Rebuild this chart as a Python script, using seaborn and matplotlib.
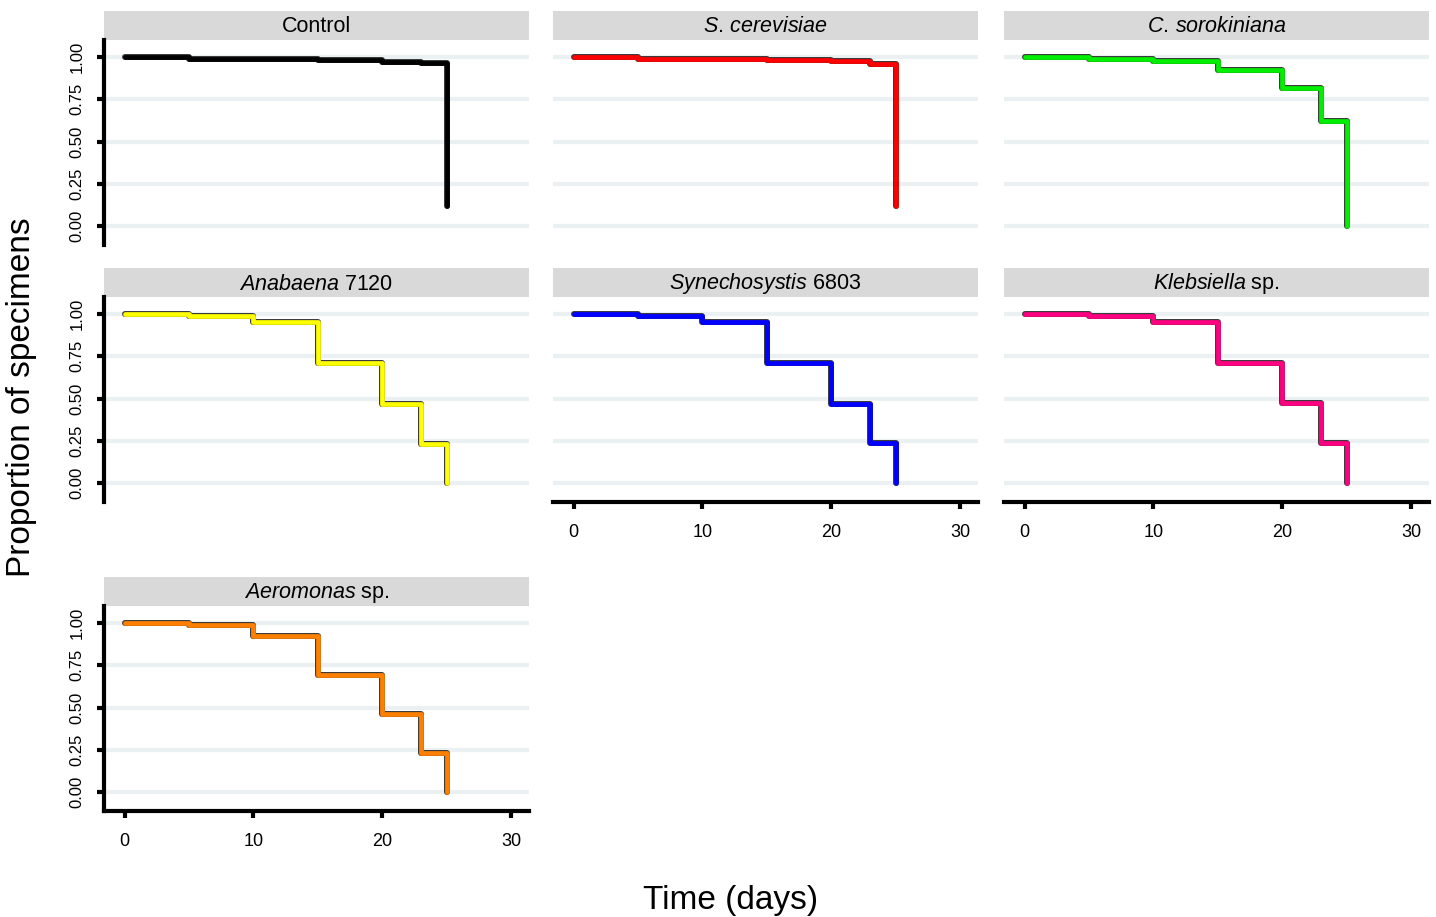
import pandas as pd
import matplotlib.pyplot as plt
import matplotlib.patheffects as pe
from matplotlib.patches import Rectangle
import seaborn as sns

# survival steps (event days)
times = [0, 5, 10, 15, 20, 23, 25]
control = [1.0, 0.99, 0.99, 0.98, 0.972, 0.965, 0.12]
cerevisiae = [1.0, 0.99, 0.99, 0.984, 0.976, 0.96, 0.12]
sorokiniana = [1.0, 0.99, 0.975, 0.92, 0.815, 0.62, 0.0]
anabaena = [1.0, 0.99, 0.95, 0.71, 0.47, 0.235, 0.0]
synechocystis = [1.0, 0.99, 0.95, 0.71, 0.47, 0.238, 0.0]
klebsiella = [1.0, 0.99, 0.95, 0.71, 0.472, 0.238, 0.0]
aeromonas = [1.0, 0.99, 0.925, 0.69, 0.46, 0.23, 0.0]

groups = ['Control', 'S. cerevisiae', 'C. sorokiniana', 'Anabaena 7120',
          'Synechosystis 6803', 'Klebsiella sp.', 'Aeromonas sp.']
strip_labels = ['Control', r'$\mathit{S.\,cerevisiae}$', r'$\mathit{C.\,sorokiniana}$',
                r'$\mathit{Anabaena}$ 7120', r'$\mathit{Synechosystis}$ 6803',
                r'$\mathit{Klebsiella}$ sp.', r'$\mathit{Aeromonas}$ sp.']
colors = ['#000000', '#ff0000', '#00ee00', '#ffff00', '#0000ff', '#ff0080', '#ff8000']
y_ticks = [0.0, 0.25, 0.5, 0.75, 1.0]
x_ticks = [0, 10, 20, 30]

curves = [control, cerevisiae, sorokiniana, anabaena, synechocystis, klebsiella, aeromonas]
df = pd.concat([pd.DataFrame({'group': grp, 'time': times, 'surv': vals})
                for grp, vals in zip(groups, curves)], ignore_index=True)

sns.set_style('white')
plt.rcParams['font.family'] = ['Liberation Sans', 'DejaVu Sans']
plt.rcParams['mathtext.fontset'] = 'custom'
plt.rcParams['mathtext.rm'] = 'Liberation Sans'
plt.rcParams['mathtext.it'] = 'Liberation Sans:italic'
plt.rcParams['text.color'] = 'black'
plt.rcParams['xtick.color'] = 'black'
plt.rcParams['ytick.color'] = 'black'

W, H = 1436, 917
fig = plt.figure(figsize=(W / 100, H / 100), dpi=100)

col_left = [104, 553, 1004]
panel_w = 425
row_top = [40, 297, 606]
panel_h = 205
strip_h = 29

for i, grp in enumerate(groups):
    r, c = divmod(i, 3)
    ax = fig.add_axes([col_left[c] / W, (H - row_top[r] - panel_h) / H, panel_w / W, panel_h / H])
    sub = df[df['group'] == grp]
    sns.lineplot(data=sub, x='time', y='surv', ax=ax, color=colors[i], lw=3.4,
                 drawstyle='steps-post', solid_capstyle='round', solid_joinstyle='round',
                 path_effects=[pe.Stroke(linewidth=4.3, foreground='#3a3a3a'), pe.Normal()],
                 zorder=3)
    ax.set_xlim(-1.6, 31.4)
    ax.set_ylim(-0.11, 1.1)
    ax.set_yticks(y_ticks)
    ax.set_xticks(x_ticks)
    ax.yaxis.grid(True, color='#ebf0f2', lw=3)
    ax.xaxis.grid(False)
    ax.set_axisbelow(True)
    ax.set_xlabel('')
    ax.set_ylabel('')
    for s in ['top', 'right']:
        ax.spines[s].set_visible(False)

    left = c == 0
    bottom = (r == 2) or (r == 1 and c > 0)
    ax.spines['left'].set_visible(left)
    ax.spines['bottom'].set_visible(bottom)
    for s in ['left', 'bottom']:
        ax.spines[s].set_linewidth(3)
        ax.spines[s].set_color('black')
    ax.tick_params(axis='y', left=left, labelleft=left, length=5, width=3,
                   labelsize=12, pad=9, rotation=90)
    ax.tick_params(axis='x', bottom=bottom, labelbottom=bottom, length=5, width=3,
                   labelsize=13, pad=11)
    ax.set_yticklabels(['0.00', '0.25', '0.50', '0.75', '1.00'], va='center')

    # facet strip
    ax.add_patch(Rectangle((0, 1), 1, strip_h / panel_h, transform=ax.transAxes,
                           facecolor='#d9d9d9', edgecolor='none', clip_on=False))
    ax.text(0.5, 1 + (strip_h / 2 - 1.5) / panel_h, strip_labels[i], transform=ax.transAxes,
            ha='center', va='center', fontsize=15.5)

fig.text(22 / W, 1 - 397 / H, 'Proportion of specimens', rotation=90,
         ha='center', va='center', fontsize=24)
fig.text(731 / W, 1 - 901 / H, 'Time (days)', ha='center', va='center', fontsize=24)

fig.savefig('out.png', dpi=100)
